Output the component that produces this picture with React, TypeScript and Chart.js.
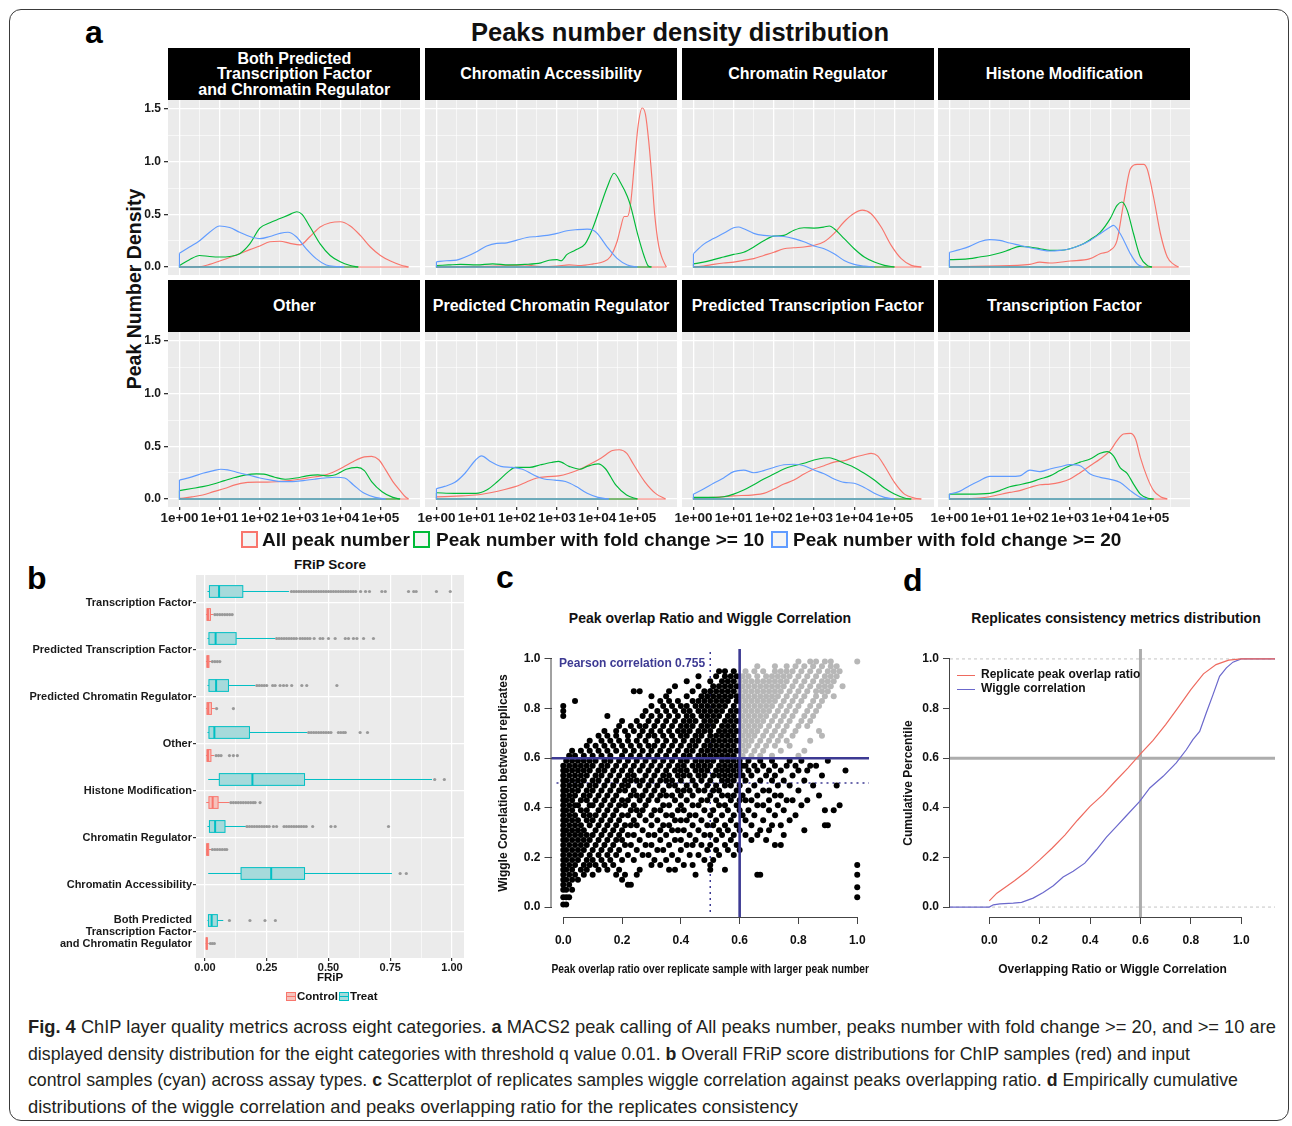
import React, { useEffect, useLayoutEffect, useRef } from 'react';
import { Chart, registerables } from 'chart.js';
Chart.register(...registerables);

const FONT = '"Liberation Sans", Arial, Helvetica, sans-serif';
Chart.defaults.font.family = FONT;
Chart.defaults.color = '#111';

// ================= Panel a : density distributions =================
const densityTitle = 'Peaks number density distribution';
const facetLabels = [
  'Both Predicted\nTranscription Factor\nand Chromatin Regulator',
  'Chromatin Accessibility',
  'Chromatin Regulator',
  'Histone Modification',
  'Other',
  'Predicted Chromatin Regulator',
  'Predicted Transcription Factor',
  'Transcription Factor',
];
const seriesLabels = ['All peak number', 'Peak number with fold change >= 10', 'Peak number with fold change >= 20'];
const seriesColors = ['#F8766D', '#00BA38', '#619CFF'];
const logTickLabels = ['1e+00', '1e+01', '1e+02', '1e+03', '1e+04', '1e+05'];
const densityYTickLabels = ['0.0', '0.5', '1.0', '1.5'];

type Curve = [number, number][];
// x = log10(peak number), y = density
const bothAll: Curve = [[0,0],[0.5,0.003],[0.75,0.025],[1,0.057],[1.25,0.09],[1.5,0.127],[1.75,0.165],[2,0.2],[2.25,0.24],[2.5,0.245],[2.75,0.225],[3,0.21],[3.25,0.29],[3.5,0.38],[3.75,0.42],[4,0.43],[4.25,0.39],[4.5,0.3],[4.75,0.19],[5,0.11],[5.25,0.057],[5.5,0.02],[5.7,0]];
const bothFc10: Curve = [[0,0.015],[0.25,0.07],[0.5,0.11],[0.75,0.1],[1,0.095],[1.25,0.1],[1.5,0.127],[1.75,0.22],[2,0.37],[2.25,0.42],[2.5,0.46],[2.75,0.5],[2.92,0.525],[3.05,0.5],[3.25,0.38],[3.5,0.22],[3.75,0.11],[4,0.05],[4.25,0.015],[4.45,0]];
const bothFc20: Curve = [[0,0.13],[0.25,0.19],[0.5,0.25],[0.75,0.33],[1,0.39],[1.25,0.375],[1.5,0.33],[1.75,0.29],[2,0.27],[2.25,0.29],[2.5,0.32],[2.7,0.33],[2.9,0.29],[3.15,0.175],[3.4,0.08],[3.65,0.02],[3.9,0.005],[4.1,0]];

const caAll: Curve = [[0,0],[1.5,0.01],[2.2,0.02],[2.6,0.005],[3,0.01],[3.3,0.02],[3.6,0.015],[3.9,0.03],[4.15,0.05],[4.33,0.1],[4.5,0.25],[4.58,0.37],[4.67,0.48],[4.75,0.48],[4.83,0.6],[4.93,1.0],[5.02,1.35],[5.12,1.51],[5.2,1.45],[5.28,1.2],[5.37,0.8],[5.43,0.5],[5.53,0.2],[5.62,0.08],[5.72,0]];
const caFc10: Curve = [[0,0.015],[0.3,0.02],[0.6,0.025],[1,0.02],[1.4,0.03],[1.8,0.02],[2.2,0.025],[2.6,0.04],[2.8,0.065],[3,0.07],[3.1,0.06],[3.25,0.12],[3.45,0.16],[3.7,0.22],[3.9,0.38],[4.1,0.6],[4.25,0.76],[4.42,0.89],[4.58,0.8],[4.75,0.67],[4.83,0.58],[5,0.32],[5.17,0.1],[5.27,0.01],[5.35,0]];
const caFc20: Curve = [[0,0.05],[0.25,0.06],[0.5,0.066],[0.75,0.1],[1,0.145],[1.25,0.2],[1.5,0.225],[1.75,0.23],[2,0.255],[2.25,0.28],[2.5,0.29],[2.75,0.3],[3,0.32],[3.25,0.345],[3.5,0.355],[3.75,0.36],[3.9,0.35],[4,0.32],[4.25,0.19],[4.5,0.08],[4.75,0.02],[5,0]];

const crAll: Curve = [[0,0],[0.25,0.01],[0.5,0.025],[0.75,0.038],[1,0.047],[1.25,0.063],[1.5,0.08],[1.75,0.11],[2,0.14],[2.25,0.174],[2.5,0.183],[2.75,0.19],[3,0.206],[3.25,0.24],[3.5,0.32],[3.75,0.43],[4,0.51],[4.2,0.54],[4.42,0.506],[4.67,0.38],[4.92,0.206],[5.17,0.08],[5.42,0.016],[5.67,0]];
const crFc10: Curve = [[0,0.03],[0.25,0.047],[0.5,0.07],[0.75,0.095],[1,0.12],[1.25,0.14],[1.5,0.19],[1.75,0.25],[2,0.294],[2.25,0.3],[2.5,0.35],[2.75,0.373],[3,0.37],[3.25,0.38],[3.38,0.39],[3.5,0.364],[3.75,0.27],[4,0.174],[4.25,0.095],[4.5,0.047],[4.75,0.016],[5,0]];
const crFc20: Curve = [[0,0.127],[0.25,0.215],[0.5,0.27],[0.75,0.32],[1,0.373],[1.12,0.38],[1.25,0.364],[1.5,0.32],[1.75,0.3],[2,0.294],[2.25,0.29],[2.5,0.27],[2.75,0.24],[3,0.2],[3.25,0.174],[3.5,0.127],[3.75,0.063],[4,0.025],[4.25,0.01],[4.5,0]];

const hmAll: Curve = [[0,0],[1,0.01],[2,0.025],[2.25,0.047],[2.5,0.038],[3,0.057],[3.5,0.08],[3.75,0.127],[4,0.158],[4.17,0.253],[4.33,0.6],[4.5,0.93],[4.67,0.975],[4.83,0.975],[4.92,0.93],[5.08,0.66],[5.25,0.316],[5.42,0.095],[5.58,0.025],[5.7,0]];
const hmFc10: Curve = [[0,0.07],[0.25,0.073],[0.5,0.08],[0.75,0.095],[1,0.11],[1.25,0.133],[1.5,0.165],[1.75,0.196],[2,0.19],[2.25,0.174],[2.5,0.158],[2.75,0.158],[3,0.174],[3.25,0.206],[3.5,0.26],[3.75,0.33],[4,0.46],[4.17,0.585],[4.29,0.617],[4.42,0.54],[4.58,0.316],[4.75,0.095],[4.92,0.016],[5.04,0]];
const hmFc20: Curve = [[0,0.14],[0.25,0.165],[0.5,0.196],[0.75,0.24],[1,0.26],[1.25,0.253],[1.5,0.228],[1.75,0.206],[2,0.183],[2.25,0.165],[2.5,0.152],[2.75,0.158],[3,0.174],[3.25,0.206],[3.5,0.253],[3.75,0.316],[4,0.38],[4.08,0.395],[4.25,0.316],[4.5,0.127],[4.67,0.03],[4.83,0]];

const otherAll: Curve = [[0,0.006],[0.31,0.02],[0.58,0.038],[0.85,0.07],[1.12,0.1],[1.38,0.134],[1.65,0.156],[1.92,0.16],[2.19,0.16],[2.46,0.166],[2.72,0.175],[2.99,0.188],[3.26,0.204],[3.53,0.22],[3.79,0.25],[4.06,0.3],[4.33,0.357],[4.6,0.4],[4.78,0.405],[4.96,0.373],[5.13,0.277],[5.31,0.166],[5.49,0.08],[5.62,0.022],[5.7,0]];
const otherFc10: Curve = [[0,0.08],[0.31,0.1],[0.58,0.118],[0.85,0.143],[1.12,0.175],[1.38,0.204],[1.65,0.23],[1.92,0.239],[2.1,0.236],[2.37,0.207],[2.63,0.188],[2.9,0.2],[3.17,0.22],[3.44,0.23],[3.71,0.22],[3.88,0.23],[4.15,0.283],[4.42,0.3],[4.6,0.27],[4.78,0.166],[5.04,0.07],[5.31,0.016],[5.49,0]];
const otherFc20: Curve = [[0,0.18],[0.31,0.21],[0.58,0.245],[0.85,0.27],[1.03,0.283],[1.2,0.277],[1.47,0.25],[1.74,0.226],[2,0.2],[2.28,0.18],[2.54,0.166],[2.81,0.166],[3.08,0.175],[3.35,0.188],[3.62,0.2],[3.88,0.207],[4.11,0.2],[4.33,0.134],[4.6,0.054],[4.87,0.016],[5.13,0]];

const pcrAll: Curve = [[0,0.02],[0.63,0.03],[0.98,0.038],[1.34,0.06],[1.7,0.09],[1.96,0.118],[2.23,0.16],[2.5,0.2],[2.77,0.213],[3.04,0.22],[3.3,0.245],[3.57,0.283],[3.84,0.334],[4.1,0.39],[4.38,0.46],[4.55,0.468],[4.73,0.436],[4.91,0.325],[5.18,0.166],[5.45,0.054],[5.7,0]];
const pcrFc10: Curve = [[0,0.06],[0.45,0.054],[0.98,0.054],[1.25,0.086],[1.52,0.166],[1.79,0.26],[1.96,0.3],[2.32,0.3],[2.59,0.325],[2.86,0.347],[3.04,0.357],[3.3,0.31],[3.57,0.283],[3.75,0.31],[4.02,0.334],[4.2,0.29],[4.46,0.134],[4.73,0.038],[5,0]];
const pcrFc20: Curve = [[0,0.1],[0.2,0.12],[0.45,0.156],[0.71,0.245],[0.98,0.373],[1.12,0.41],[1.34,0.357],[1.6,0.31],[1.88,0.3],[2.14,0.283],[2.41,0.23],[2.68,0.19],[2.95,0.18],[3.21,0.166],[3.48,0.118],[3.75,0.054],[4.02,0.016],[4.29,0]];

const ptfAll: Curve = [[0,0.01],[0.5,0.016],[1,0.03],[1.5,0.04],[1.75,0.054],[2,0.095],[2.25,0.142],[2.5,0.18],[2.75,0.237],[3,0.285],[3.25,0.316],[3.5,0.35],[3.75,0.364],[4,0.396],[4.25,0.42],[4.42,0.434],[4.58,0.41],[4.75,0.316],[5,0.158],[5.25,0.047],[5.5,0.01],[5.67,0]];
const ptfFc10: Curve = [[0,0.016],[0.5,0.016],[0.75,0.022],[1,0.047],[1.25,0.085],[1.5,0.136],[1.75,0.19],[2,0.237],[2.25,0.285],[2.5,0.316],[2.75,0.34],[3,0.37],[3.25,0.39],[3.38,0.392],[3.5,0.38],[3.75,0.34],[4,0.3],[4.25,0.244],[4.5,0.18],[4.75,0.104],[5,0.047],[5.25,0.01],[5.42,0]];
const ptfFc20: Curve = [[0,0.047],[0.25,0.095],[0.5,0.15],[0.75,0.2],[1,0.26],[1.25,0.275],[1.5,0.25],[1.75,0.27],[2,0.3],[2.25,0.326],[2.5,0.33],[2.75,0.316],[3,0.275],[3.25,0.24],[3.5,0.19],[3.75,0.158],[4,0.15],[4.25,0.11],[4.5,0.054],[4.75,0.016],[5,0]];

const tfAll: Curve = [[0,0],[0.75,0.01],[1,0.022],[1.5,0.063],[1.75,0.08],[2,0.11],[2.25,0.136],[2.5,0.142],[2.75,0.158],[3,0.19],[3.25,0.25],[3.5,0.316],[3.75,0.38],[4,0.46],[4.17,0.554],[4.33,0.617],[4.5,0.623],[4.63,0.57],[4.75,0.396],[4.92,0.206],[5.08,0.08],[5.25,0.022],[5.42,0]];
const tfFc10: Curve = [[0,0.047],[0.5,0.047],[1,0.054],[1.25,0.08],[1.5,0.117],[1.75,0.136],[2,0.158],[2.25,0.19],[2.5,0.22],[2.75,0.27],[3,0.316],[3.25,0.35],[3.5,0.38],[3.75,0.434],[3.92,0.45],[4.08,0.41],[4.25,0.295],[4.42,0.244],[4.58,0.142],[4.75,0.047],[4.92,0.01],[5.08,0]];
const tfFc20: Curve = [[0,0.047],[0.25,0.073],[0.5,0.127],[0.75,0.174],[1,0.215],[1.25,0.215],[1.5,0.215],[1.75,0.22],[2,0.275],[2.25,0.26],[2.5,0.285],[2.75,0.307],[3,0.326],[3.25,0.316],[3.5,0.237],[3.75,0.206],[4,0.187],[4.25,0.158],[4.5,0.08],[4.75,0.016],[4.92,0]];

const densityPanels: Curve[][] = [
  [bothAll, bothFc10, bothFc20],
  [caAll, caFc10, caFc20],
  [crAll, crFc10, crFc20],
  [hmAll, hmFc10, hmFc20],
  [otherAll, otherFc10, otherFc20],
  [pcrAll, pcrFc10, pcrFc20],
  [ptfAll, ptfFc10, ptfFc20],
  [tfAll, tfFc10, tfFc20],
];

// ================= Panel b : FRiP boxplots =================
const fripCategories: (string | string[])[] = [
  'Transcription Factor',
  'Predicted Transcription Factor',
  'Predicted Chromatin Regulator',
  'Other',
  'Histone Modification',
  'Chromatin Regulator',
  'Chromatin Accessibility',
  ['Both Predicted', 'Transcription Factor', 'and Chromatin Regulator'],
];
const fripTickLabels = ['0.00', '0.25', '0.50', '0.75', '1.00'];
// [lower whisker, q1, median, q3, upper whisker]
const fripTreatStats: (number[] | null)[] = [
  [0.01, 0.018, 0.057, 0.153, 0.34],
  [0.01, 0.016, 0.043, 0.126, 0.284],
  [0.01, 0.016, 0.045, 0.095, 0.203],
  [0.01, 0.016, 0.038, 0.18, 0.415],
  [0.013, 0.058, 0.192, 0.403, 0.919],
  [0.01, 0.018, 0.041, 0.081, 0.166],
  [0.013, 0.146, 0.268, 0.403, 0.757],
  [0.01, 0.014, 0.027, 0.05, 0.074],
];
const fripControlStats: (number[] | null)[] = [
  [0.004, 0.008, 0.012, 0.022, 0.034],
  [0.004, 0.008, 0.011, 0.016, 0.025],
  [0.004, 0.008, 0.013, 0.026, 0.04],
  [0.004, 0.008, 0.012, 0.024, 0.037],
  [0.005, 0.016, 0.031, 0.053, 0.099],
  [0.004, 0.007, 0.01, 0.015, 0.025],
  null,
  [0.003, 0.005, 0.007, 0.009, 0.015],
];
const fripTreatOutliers: number[][] = [
  [0.35,0.36,0.37,0.38,0.39,0.4,0.41,0.42,0.43,0.44,0.45,0.46,0.47,0.48,0.49,0.5,0.51,0.52,0.53,0.54,0.55,0.56,0.57,0.58,0.59,0.6,0.61,0.63,0.65,0.666,0.716,0.73,0.824,0.845,0.855,0.937,0.993],
  [0.29,0.3,0.31,0.32,0.33,0.34,0.35,0.36,0.37,0.385,0.395,0.405,0.415,0.425,0.442,0.466,0.477,0.5,0.527,0.568,0.581,0.601,0.615,0.642,0.682],
  [0.21,0.22,0.23,0.24,0.25,0.274,0.284,0.304,0.318,0.331,0.351,0.392,0.412,0.534],
  [0.42,0.43,0.44,0.45,0.46,0.47,0.48,0.49,0.5,0.51,0.54,0.55,0.56,0.568,0.628,0.658],
  [0.93,0.969],
  [0.17,0.18,0.19,0.2,0.21,0.22,0.23,0.24,0.25,0.26,0.277,0.29,0.32,0.33,0.34,0.35,0.36,0.37,0.38,0.39,0.4,0.41,0.436,0.51,0.527,0.743],
  [0.79,0.815],
  [0.099,0.182,0.243,0.285],
];
const fripControlOutliers: number[][] = [
  [0.04,0.05,0.06,0.07,0.08,0.09,0.1,0.11],
  [0.03,0.04,0.05,0.06],
  [0.047,0.115],
  [0.045,0.055,0.065,0.099,0.115,0.131],
  [0.105,0.115,0.125,0.135,0.145,0.155,0.165,0.175,0.185,0.195,0.203,0.223],
  [0.03,0.04,0.05,0.06,0.07,0.08,0.088],
  [],
  [0.022,0.03,0.038],
];

// ================= Panel c : scatter =================
const unitTickLabels = ['0.0', '0.2', '0.4', '0.6', '0.8', '1.0'];
const overlapCut = 0.6;
const wiggleCut = 0.6;
const overlapDotted = 0.5;
const wiggleDotted = 0.5;
const pearsonText = 'Pearson correlation 0.755';
// rows of [wiggle correlation, overlap ratios...]
const scatterBlackRows: [number, number[]][] = [
  [0.01, [0.0, 0.01]],
  [0.04, [0.0, 0.01, 0.02, 1.0]],
  [0.07, [0.0, 0.01, 0.03]],
  [0.08, [1.0]],
  [0.09, [0.0, 0.02, 0.22, 0.23]],
  [0.11, [0.0, 0.01, 0.03, 0.05, 0.2]],
  [0.13, [0.0, 0.02, 0.04, 0.07, 0.1, 0.18, 0.21, 0.25, 0.45, 0.66, 0.67, 1.0]],
  [0.15, [0.0, 0.01, 0.03, 0.06, 0.08, 0.12, 0.15, 0.19, 0.26, 0.36, 0.38, 0.5, 0.55]],
  [0.17, [0.0, 0.02, 0.04, 0.07, 0.09, 0.11, 0.14, 0.17, 0.3, 0.33, 0.41, 0.44, 0.5, 1.0]],
  [0.19, [0.0, 0.01, 0.03, 0.05, 0.08, 0.1, 0.13, 0.16, 0.2, 0.24, 0.31, 0.35, 0.39, 0.48, 0.51]],
  [0.21, [0.0, 0.02, 0.04, 0.06, 0.09, 0.12, 0.15, 0.18, 0.22, 0.27, 0.29, 0.37, 0.43, 0.46, 0.53, 0.58]],
  [0.23, [0.0, 0.01, 0.03, 0.05, 0.07, 0.1, 0.13, 0.16, 0.19, 0.25, 0.32, 0.34, 0.4, 0.49, 0.52, 0.56, 0.6]],
  [0.25, [0.0, 0.02, 0.04, 0.06, 0.08, 0.11, 0.14, 0.17, 0.21, 0.23, 0.28, 0.3, 0.36, 0.42, 0.44, 0.47, 0.5, 0.55, 0.59, 0.72, 0.74]],
  [0.27, [0.0, 0.01, 0.03, 0.05, 0.07, 0.09, 0.12, 0.15, 0.18, 0.2, 0.26, 0.33, 0.38, 0.4, 0.45, 0.52, 0.57, 0.64, 0.69]],
  [0.29, [0.0, 0.02, 0.04, 0.06, 0.08, 0.1, 0.13, 0.16, 0.19, 0.22, 0.24, 0.29, 0.31, 0.35, 0.43, 0.48, 0.5, 0.54, 0.58, 0.62, 0.66, 0.75]],
  [0.31, [0.0, 0.01, 0.03, 0.05, 0.07, 0.11, 0.14, 0.17, 0.2, 0.27, 0.33, 0.37, 0.39, 0.41, 0.46, 0.53, 0.56, 0.6, 0.67, 0.7, 0.82]],
  [0.33, [0.0, 0.02, 0.04, 0.06, 0.09, 0.12, 0.15, 0.18, 0.21, 0.23, 0.25, 0.3, 0.34, 0.36, 0.44, 0.49, 0.51, 0.55, 0.59, 0.64, 0.71, 0.74, 0.89, 0.9]],
  [0.35, [0.0, 0.01, 0.03, 0.05, 0.08, 0.1, 0.13, 0.16, 0.19, 0.24, 0.28, 0.32, 0.38, 0.4, 0.42, 0.47, 0.52, 0.57, 0.62, 0.68, 0.77]],
  [0.37, [0.0, 0.02, 0.04, 0.07, 0.09, 0.11, 0.14, 0.17, 0.2, 0.22, 0.26, 0.3, 0.35, 0.37, 0.43, 0.45, 0.5, 0.54, 0.58, 0.61, 0.65, 0.72, 0.79]],
  [0.39, [0.0, 0.01, 0.03, 0.06, 0.08, 0.12, 0.15, 0.18, 0.23, 0.25, 0.27, 0.31, 0.33, 0.39, 0.41, 0.48, 0.51, 0.56, 0.6, 0.63, 0.7, 0.75, 0.89, 0.92]],
  [0.41, [0.0, 0.02, 0.04, 0.05, 0.09, 0.1, 0.13, 0.16, 0.19, 0.21, 0.24, 0.28, 0.34, 0.36, 0.4, 0.44, 0.46, 0.53, 0.55, 0.59, 0.66, 0.68, 0.73, 0.81, 0.94]],
  [0.43, [0.0, 0.01, 0.03, 0.06, 0.08, 0.11, 0.14, 0.17, 0.2, 0.22, 0.26, 0.29, 0.32, 0.38, 0.42, 0.47, 0.49, 0.52, 0.57, 0.6, 0.62, 0.64, 0.7, 0.76, 0.78, 0.83]],
  [0.45, [0.0, 0.02, 0.04, 0.07, 0.09, 0.12, 0.15, 0.18, 0.23, 0.25, 0.27, 0.3, 0.33, 0.35, 0.37, 0.4, 0.44, 0.5, 0.54, 0.56, 0.58, 0.61, 0.66, 0.72, 0.74, 0.87]],
  [0.47, [0.0, 0.01, 0.03, 0.05, 0.08, 0.1, 0.13, 0.16, 0.19, 0.21, 0.24, 0.28, 0.31, 0.34, 0.39, 0.41, 0.43, 0.46, 0.48, 0.51, 0.53, 0.59, 0.63, 0.68, 0.7, 0.8]],
  [0.49, [0.0, 0.02, 0.04, 0.06, 0.09, 0.11, 0.14, 0.17, 0.2, 0.22, 0.26, 0.29, 0.32, 0.36, 0.38, 0.42, 0.45, 0.49, 0.52, 0.55, 0.57, 0.6, 0.65, 0.73, 0.77, 0.85, 0.93]],
  [0.51, [0.0, 0.01, 0.03, 0.05, 0.07, 0.1, 0.12, 0.15, 0.18, 0.21, 0.23, 0.25, 0.27, 0.3, 0.33, 0.35, 0.37, 0.4, 0.44, 0.47, 0.5, 0.54, 0.56, 0.58, 0.62, 0.67, 0.71, 0.75, 0.82]],
  [0.53, [0.0, 0.02, 0.04, 0.06, 0.08, 0.11, 0.13, 0.16, 0.19, 0.22, 0.24, 0.28, 0.31, 0.34, 0.36, 0.39, 0.41, 0.43, 0.46, 0.48, 0.51, 0.53, 0.55, 0.57, 0.59, 0.61, 0.64, 0.69, 0.72, 0.78, 0.88]],
  [0.55, [0.0, 0.01, 0.03, 0.05, 0.07, 0.09, 0.12, 0.14, 0.17, 0.2, 0.23, 0.26, 0.29, 0.32, 0.35, 0.38, 0.4, 0.42, 0.45, 0.47, 0.49, 0.52, 0.54, 0.56, 0.58, 0.6, 0.63, 0.66, 0.7, 0.74, 0.8, 0.83, 0.96]],
  [0.57, [0.0, 0.02, 0.04, 0.06, 0.08, 0.1, 0.13, 0.15, 0.18, 0.21, 0.24, 0.27, 0.3, 0.33, 0.36, 0.39, 0.41, 0.44, 0.46, 0.48, 0.5, 0.53, 0.55, 0.57, 0.59, 0.61, 0.62, 0.65, 0.68, 0.72, 0.76, 0.79, 0.84, 0.86]],
  [0.59, [0.01, 0.03, 0.05, 0.07, 0.09, 0.11, 0.14, 0.16, 0.19, 0.22, 0.25, 0.28, 0.31, 0.34, 0.37, 0.4, 0.42, 0.45, 0.47, 0.49, 0.51, 0.54, 0.56, 0.58, 0.6, 0.63, 0.67, 0.71, 0.77, 0.81, 0.9]],
  [0.61, [0.02, 0.04, 0.07, 0.1, 0.13, 0.16, 0.2, 0.23, 0.26, 0.29, 0.32, 0.35, 0.38, 0.41, 0.43, 0.46, 0.48, 0.5, 0.52, 0.54, 0.56, 0.58]],
  [0.63, [0.03, 0.06, 0.09, 0.12, 0.15, 0.18, 0.21, 0.24, 0.27, 0.3, 0.33, 0.36, 0.39, 0.42, 0.44, 0.47, 0.49, 0.51, 0.53, 0.55, 0.57, 0.59]],
  [0.65, [0.08, 0.11, 0.14, 0.17, 0.2, 0.23, 0.26, 0.29, 0.31, 0.34, 0.37, 0.4, 0.43, 0.45, 0.48, 0.5, 0.52, 0.54, 0.56, 0.58]],
  [0.67, [0.09, 0.13, 0.16, 0.19, 0.22, 0.25, 0.28, 0.32, 0.35, 0.38, 0.41, 0.44, 0.46, 0.49, 0.51, 0.53, 0.55, 0.57, 0.59]],
  [0.69, [0.12, 0.15, 0.18, 0.22, 0.26, 0.29, 0.31, 0.34, 0.37, 0.4, 0.42, 0.45, 0.47, 0.5, 0.52, 0.54, 0.56, 0.58]],
  [0.71, [0.14, 0.18, 0.21, 0.24, 0.27, 0.3, 0.33, 0.36, 0.39, 0.41, 0.43, 0.46, 0.48, 0.5, 0.53, 0.55, 0.57, 0.59]],
  [0.73, [0.19, 0.23, 0.26, 0.28, 0.31, 0.34, 0.37, 0.4, 0.42, 0.44, 0.47, 0.49, 0.51, 0.54, 0.56, 0.58]],
  [0.75, [0.2, 0.25, 0.29, 0.32, 0.35, 0.38, 0.41, 0.43, 0.45, 0.48, 0.5, 0.52, 0.55, 0.57, 0.59]],
  [0.77, [0.0, 0.15, 0.27, 0.3, 0.33, 0.36, 0.39, 0.42, 0.44, 0.47, 0.49, 0.51, 0.53, 0.56, 0.58]],
  [0.79, [0.0, 0.28, 0.32, 0.35, 0.38, 0.41, 0.43, 0.46, 0.48, 0.5, 0.52, 0.54, 0.57, 0.59]],
  [0.81, [0.0, 0.3, 0.34, 0.37, 0.4, 0.42, 0.45, 0.47, 0.49, 0.51, 0.53, 0.55, 0.58]],
  [0.83, [0.04, 0.33, 0.36, 0.39, 0.44, 0.46, 0.48, 0.5, 0.52, 0.54, 0.56, 0.59]],
  [0.85, [0.3, 0.35, 0.42, 0.47, 0.49, 0.51, 0.53, 0.55, 0.57, 0.59]],
  [0.87, [0.24, 0.26, 0.36, 0.44, 0.48, 0.5, 0.52, 0.54, 0.56, 0.58]],
  [0.89, [0.38, 0.46, 0.51, 0.53, 0.55, 0.57, 0.59]],
  [0.91, [0.42, 0.5, 0.54, 0.56, 0.58]],
  [0.93, [0.46, 0.52, 0.55, 0.57, 0.59]],
  [0.95, [0.53, 0.55, 0.58]],
];
const scatterGrayRows: [number, number[]][] = [
  [0.61, [0.61, 0.64, 0.67, 0.71, 0.8]],
  [0.63, [0.6, 0.62, 0.65, 0.68, 0.74, 0.82]],
  [0.65, [0.61, 0.63, 0.66, 0.69, 0.72, 0.77]],
  [0.67, [0.6, 0.62, 0.64, 0.67, 0.7, 0.73, 0.76, 0.84]],
  [0.69, [0.61, 0.63, 0.65, 0.68, 0.71, 0.74, 0.78, 0.88]],
  [0.71, [0.6, 0.62, 0.64, 0.66, 0.69, 0.72, 0.75, 0.79, 0.87]],
  [0.73, [0.61, 0.63, 0.65, 0.67, 0.7, 0.73, 0.76, 0.8, 0.83]],
  [0.75, [0.6, 0.62, 0.64, 0.66, 0.68, 0.71, 0.74, 0.77, 0.81, 0.84]],
  [0.77, [0.61, 0.63, 0.65, 0.67, 0.69, 0.72, 0.75, 0.78, 0.82, 0.85]],
  [0.79, [0.6, 0.62, 0.64, 0.66, 0.68, 0.7, 0.73, 0.76, 0.79, 0.83, 0.86]],
  [0.81, [0.61, 0.63, 0.65, 0.67, 0.69, 0.71, 0.74, 0.77, 0.8, 0.84, 0.87]],
  [0.83, [0.6, 0.62, 0.64, 0.66, 0.68, 0.7, 0.72, 0.75, 0.78, 0.81, 0.85, 0.88]],
  [0.85, [0.61, 0.63, 0.65, 0.67, 0.69, 0.71, 0.73, 0.76, 0.79, 0.82, 0.86, 0.89, 0.92]],
  [0.87, [0.6, 0.62, 0.64, 0.66, 0.68, 0.7, 0.72, 0.74, 0.77, 0.8, 0.83, 0.86, 0.88, 0.9]],
  [0.89, [0.61, 0.63, 0.65, 0.67, 0.69, 0.71, 0.73, 0.75, 0.78, 0.81, 0.84, 0.87, 0.89, 0.91, 0.95]],
  [0.91, [0.6, 0.62, 0.64, 0.66, 0.68, 0.7, 0.72, 0.74, 0.76, 0.79, 0.82, 0.85, 0.88, 0.9, 0.92]],
  [0.93, [0.61, 0.63, 0.66, 0.69, 0.71, 0.73, 0.75, 0.77, 0.8, 0.83, 0.86, 0.89, 0.91, 0.93]],
  [0.95, [0.62, 0.65, 0.68, 0.72, 0.74, 0.76, 0.78, 0.81, 0.84, 0.87, 0.9, 0.92, 0.94]],
  [0.97, [0.66, 0.72, 0.76, 0.79, 0.82, 0.85, 0.88, 0.91, 0.93]],
  [0.99, [0.8, 0.84, 0.86, 0.89, 0.91, 1.0]],
];

// ================= Panel d : ECDF =================
const ecdfLegend = ['Replicate peak overlap ratio', 'Wiggle correlation'];
const overlapEcdf: Curve = [[0,0.025],[0.03,0.056],[0.1,0.106],[0.15,0.145],[0.2,0.19],[0.25,0.238],[0.3,0.29],[0.35,0.35],[0.4,0.406],[0.45,0.452],[0.5,0.507],[0.55,0.56],[0.6,0.617],[0.65,0.672],[0.7,0.735],[0.75,0.805],[0.8,0.876],[0.85,0.94],[0.9,0.977],[0.95,0.995],[1.0,1.0],[1.134,1.0]];
const wiggleEcdf: Curve = [[-0.156,0],[0,0],[0.016,0.009],[0.042,0.013],[0.095,0.016],[0.128,0.019],[0.174,0.036],[0.214,0.059],[0.254,0.086],[0.293,0.121],[0.333,0.144],[0.379,0.177],[0.425,0.231],[0.465,0.282],[0.505,0.325],[0.544,0.368],[0.597,0.426],[0.637,0.48],[0.69,0.527],[0.742,0.581],[0.782,0.634],[0.808,0.675],[0.835,0.708],[0.861,0.782],[0.888,0.856],[0.914,0.93],[0.941,0.964],[0.967,0.987],[1.0,1.0],[1.134,1.0]];
const ecdfCut = 0.6;

// ================= Caption =================
const captionLines: [string, boolean][][] = [
  [['Fig. 4', true], [' ChIP layer quality metrics across eight categories. ', false], ['a', true], [' MACS2 peak calling of All peaks number, peaks number with fold change >= 20, and >= 10 are', false]],
  [['displayed density distribution for the eight categories with threshold q value 0.01. ', false], ['b', true], [' Overall FRiP score distributions for ChIP samples (red) and input', false]],
  [['control samples (cyan) across assay types. ', false], ['c', true], [' Scatterplot of replicates samples wiggle correlation against peaks overlapping ratio. ', false], ['d', true], [' Empirically cumulative', false]],
  [['distributions of the wiggle correlation and peaks overlapping ratio for the replicates consistency', false]],
];

// ---------------- helpers ----------------
const near = (v: number, step: number) => Math.abs(v / step - Math.round(v / step)) < 1e-6;

const bgPlugin = {
  id: 'panelBg',
  beforeDraw(chart: any, _a: any, opts: any) {
    if (!opts || !opts.color) return;
    const { ctx, chartArea: a } = chart;
    ctx.save();
    ctx.fillStyle = opts.color;
    ctx.fillRect(a.left, a.top, a.right - a.left, a.bottom - a.top);
    ctx.restore();
  },
};

function ChartCanvas({ left, top, width, height, make }: any) {
  const ref = useRef<HTMLCanvasElement>(null);
  useEffect(() => {
    const ch = new Chart(ref.current as HTMLCanvasElement, make());
    return () => ch.destroy();
  }, []);
  return <canvas ref={ref} width={width} height={height} style={{ position: 'absolute', left, top, width, height }} />;
}

// ----- panel a config -----
const A_COL_LEFT = 168.3, A_COL_PITCH = 256.7, A_ROW_TOP = 100, A_ROW_PITCH = 232, A_W = 252, A_H = 175;
function densityConfig(curves: Curve[], showY: boolean, showX: boolean, pad: any) {
  const datasets: any[] = [];
  curves.forEach((curve, si) => {
    const ord = (2 - si) * 2;
    const f = curve[0];
    const l = curve[curve.length - 1];
    datasets.push({ data: curve.map(([x, y]) => ({ x, y })), borderColor: seriesColors[si], borderWidth: 1.15, pointRadius: 0, fill: false, cubicInterpolationMode: 'monotone', order: ord });
    datasets.push({ data: [{ x: f[0], y: f[1] }, { x: f[0], y: 0 }, { x: l[0], y: 0 }, { x: l[0], y: l[1] }], borderColor: seriesColors[si], borderWidth: 1.15, pointRadius: 0, fill: false, tension: 0, order: ord + 1 });
  });
  const tickFont = { family: FONT, weight: 'bold' as const };
  return {
    type: 'line',
    data: { datasets },
    options: {
      animation: false, responsive: false, events: [],
      layout: { padding: pad },
      plugins: { legend: { display: false }, tooltip: { enabled: false }, panelBg: { color: '#EBEBEB' } },
      scales: {
        x: {
          type: 'linear', min: -0.285, max: 5.985,
          afterBuildTicks: (s: any) => {
            const t: any[] = [];
            logTickLabels.forEach((_, i) => { t.push({ value: i }); t.push({ value: i + 0.5 }); });
            s.ticks = t;
          },
          afterFit: (s: any) => { s.height = showX ? 20 : 0; },
          border: { display: false },
          grid: {
            color: '#FFFFFF',
            lineWidth: (c: any) => (c.tick && near(c.tick.value, 1) ? 1.3 : 0.6),
            drawTicks: showX, tickLength: 3,
            tickColor: (c: any) => (c.tick && near(c.tick.value, 1) ? '#333' : 'rgba(0,0,0,0)'),
          },
          ticks: {
            display: showX, autoSkip: false, maxRotation: 0, padding: 0, color: '#1a1a1a',
            font: { ...tickFont, size: 13.5 },
            callback: (v: number) => (near(v, 1) ? logTickLabels[Math.round(v)] : ''),
          },
        },
        y: {
          type: 'linear', min: -0.0755, max: 1.5855,
          afterBuildTicks: (s: any) => {
            const t: any[] = [];
            densityYTickLabels.forEach((_, i) => { t.push({ value: i * 0.5 }); if (i < densityYTickLabels.length - 1) t.push({ value: i * 0.5 + 0.25 }); });
            s.ticks = t;
          },
          afterFit: (s: any) => { s.width = showY ? 36 : 0; },
          border: { display: false },
          grid: {
            color: '#FFFFFF',
            lineWidth: (c: any) => (c.tick && near(c.tick.value, 0.5) ? 1.3 : 0.6),
            drawTicks: showY, tickLength: 4,
            tickColor: (c: any) => (c.tick && near(c.tick.value, 0.5) ? '#333' : 'rgba(0,0,0,0)'),
          },
          ticks: {
            display: showY, autoSkip: false, padding: 3, color: '#1a1a1a',
            font: { ...tickFont, size: 12 },
            callback: (v: number) => (near(v, 0.5) ? densityYTickLabels[Math.round(v / 0.5)] : ''),
          },
        },
      },
    },
    plugins: [bgPlugin],
  };
}

// ----- panel b config -----
const B_OFF = 0.245, B_HALF = 0.125;
const boxPlugin = {
  id: 'fripBoxes',
  beforeDatasetsDraw(chart: any) {
    const { ctx, scales: { x, y } } = chart;
    const groups = [
      { stats: fripTreatStats, off: -B_OFF, line: '#00BFC4', fill: '#A6DADB' },
      { stats: fripControlStats, off: B_OFF, line: '#F8766D', fill: '#F6C2BC' },
    ];
    groups.forEach((g) => g.stats.forEach((s, i) => {
      if (!s) return;
      const [lo, q1, med, q3, hi] = s;
      const cy = y.getPixelForValue(i + g.off);
      const h = Math.abs(y.getPixelForValue(i + g.off + B_HALF) - cy);
      const x1 = x.getPixelForValue(q1), x3 = x.getPixelForValue(q3);
      ctx.save();
      ctx.strokeStyle = g.line;
      ctx.lineWidth = 1;
      ctx.beginPath();
      ctx.moveTo(x.getPixelForValue(lo), cy); ctx.lineTo(x1, cy);
      ctx.moveTo(x3, cy); ctx.lineTo(x.getPixelForValue(hi), cy);
      ctx.stroke();
      ctx.fillStyle = g.fill;
      ctx.fillRect(x1, cy - h, x3 - x1, 2 * h);
      ctx.strokeRect(x1, cy - h, x3 - x1, 2 * h);
      ctx.lineWidth = 2;
      const xm = x.getPixelForValue(med);
      ctx.beginPath(); ctx.moveTo(xm, cy - h); ctx.lineTo(xm, cy + h); ctx.stroke();
      ctx.restore();
    }));
  },
};
function fripConfig(pad: any) {
  const pts = (lists: number[][], off: number) => {
    const out: any[] = [];
    lists.forEach((vals, i) => vals.forEach((v) => out.push({ x: v, y: i + off })));
    return out;
  };
  const bold = { family: FONT, weight: 'bold' as const };
  return {
    type: 'scatter',
    data: {
      datasets: [
        { data: pts(fripTreatOutliers, -B_OFF), pointRadius: 1.6, backgroundColor: '#999999', borderWidth: 0 },
        { data: pts(fripControlOutliers, B_OFF), pointRadius: 1.6, backgroundColor: '#999999', borderWidth: 0 },
      ],
    },
    options: {
      animation: false, responsive: false, events: [],
      layout: { padding: pad },
      plugins: { legend: { display: false }, tooltip: { enabled: false }, panelBg: { color: '#EBEBEB' } },
      scales: {
        x: {
          type: 'linear', min: -0.0364, max: 1.0486,
          afterBuildTicks: (s: any) => {
            const t: any[] = [];
            fripTickLabels.forEach((_, i) => { t.push({ value: i * 0.25 }); if (i < fripTickLabels.length - 1) t.push({ value: i * 0.25 + 0.125 }); });
            s.ticks = t;
          },
          afterFit: (s: any) => { s.height = 32; },
          border: { display: false },
          grid: {
            color: '#FFFFFF',
            lineWidth: (c: any) => (c.tick && near(c.tick.value, 0.25) ? 1.2 : 0.6),
            tickLength: 3,
            tickColor: (c: any) => (c.tick && near(c.tick.value, 0.25) ? '#333' : 'rgba(0,0,0,0)'),
          },
          ticks: {
            autoSkip: false, maxRotation: 0, padding: 0, color: '#1a1a1a', font: { ...bold, size: 11 },
            callback: (v: number) => (near(v, 0.25) ? fripTickLabels[Math.round(v / 0.25)] : ''),
          },
          title: { display: true, text: 'FRiP', color: '#111', font: { ...bold, size: 11.5 }, padding: { top: 0, bottom: 5 } },
        },
        y: {
          type: 'linear', reverse: true, min: -0.596, max: 7.553,
          afterBuildTicks: (s: any) => { s.ticks = fripCategories.map((_, i) => ({ value: i })); },
          afterFit: (s: any) => { s.width = 184; },
          border: { display: false },
          grid: { color: '#FFFFFF', lineWidth: 1.2, tickLength: 3, tickColor: '#333' },
          ticks: {
            autoSkip: false, padding: 1, color: '#1a1a1a', font: { ...bold, size: 11, lineHeight: 1.12 },
            callback: (v: number) => fripCategories[Math.round(v)],
          },
        },
      },
    },
    plugins: [bgPlugin, boxPlugin],
  };
}

// ----- panel c / d (R base style) -----
const rAxesPlugin = {
  id: 'rAxes',
  afterDraw(chart: any) {
    const { ctx, chartArea: a, scales: { x, y } } = chart;
    ctx.save();
    ctx.strokeStyle = '#444';
    ctx.lineWidth = 1;
    ctx.beginPath();
    ctx.moveTo(x.getPixelForValue(0), a.bottom + 0.5); ctx.lineTo(x.getPixelForValue(1), a.bottom + 0.5);
    ctx.moveTo(a.left - 0.5, y.getPixelForValue(0)); ctx.lineTo(a.left - 0.5, y.getPixelForValue(1));
    ctx.stroke();
    ctx.restore();
  },
};
const scatterRefPlugin = {
  id: 'scatterRefs',
  beforeDatasetsDraw(chart: any) {
    const { ctx, chartArea: a, scales: { x, y } } = chart;
    ctx.save();
    ctx.strokeStyle = '#3D3A93';
    ctx.lineWidth = 1.5;
    ctx.setLineDash([2, 4]);
    const xd = x.getPixelForValue(overlapDotted), yd = y.getPixelForValue(wiggleDotted);
    ctx.beginPath();
    ctx.moveTo(xd, a.top + 3); ctx.lineTo(xd, a.bottom - 3);
    ctx.moveTo(a.left + 5, yd); ctx.lineTo(a.right, yd);
    ctx.stroke();
    ctx.restore();
  },
  afterDatasetsDraw(chart: any) {
    const { ctx, chartArea: a, scales: { x, y } } = chart;
    ctx.save();
    ctx.strokeStyle = '#3D3A93';
    ctx.lineWidth = 2.6;
    const xs = x.getPixelForValue(overlapCut), ys = y.getPixelForValue(wiggleCut);
    ctx.beginPath();
    ctx.moveTo(xs, a.top); ctx.lineTo(xs, a.bottom);
    ctx.moveTo(a.left, ys); ctx.lineTo(a.right, ys);
    ctx.stroke();
    ctx.restore();
  },
};
const ecdfRefPlugin = {
  id: 'ecdfRefs',
  beforeDatasetsDraw(chart: any) {
    const { ctx, chartArea: a, scales: { x, y } } = chart;
    ctx.save();
    ctx.strokeStyle = '#C4C4C4';
    ctx.lineWidth = 1;
    ctx.setLineDash([3, 3]);
    ctx.beginPath();
    [0, 1].forEach((v) => { const p = y.getPixelForValue(v); ctx.moveTo(a.left, p); ctx.lineTo(a.right, p); });
    ctx.stroke();
    ctx.setLineDash([]);
    ctx.strokeStyle = '#ADADAD';
    ctx.lineWidth = 3;
    const xs = x.getPixelForValue(ecdfCut), ys = y.getPixelForValue(ecdfCut);
    ctx.beginPath();
    ctx.moveTo(xs, a.top); ctx.lineTo(xs, a.bottom);
    ctx.moveTo(a.left, ys); ctx.lineTo(a.right, ys);
    ctx.stroke();
    ctx.restore();
  },
};
function rScales(xmin: number, xmax: number, xTitle: string, yTitle: string, yW: number, yTitlePad: number) {
  const bold = { family: FONT, weight: 'bold' as const };
  const common = {
    type: 'linear',
    afterBuildTicks: (s: any) => { s.ticks = unitTickLabels.map((_, i) => ({ value: i * 0.2 })); },
    border: { display: false },
    grid: { drawOnChartArea: false, drawTicks: true, tickLength: 7, tickColor: '#444', lineWidth: 1 },
  };
  return {
    x: {
      ...common, min: xmin, max: xmax,
      afterFit: (s: any) => { s.height = 68; },
      ticks: { autoSkip: false, maxRotation: 0, padding: 9, color: '#111', font: { ...bold, size: 12 }, callback: (v: number) => unitTickLabels[Math.round(v / 0.2)] },
      title: { display: true, text: xTitle, color: '#111', font: { ...bold, size: 12 }, padding: { top: 0, bottom: 8 } },
    },
    y: {
      ...common, min: -0.04, max: 1.04,
      afterFit: (s: any) => { s.width = yW; },
      ticks: { autoSkip: false, padding: 4, color: '#111', font: { ...bold, size: 12 }, callback: (v: number) => unitTickLabels[Math.round(v / 0.2)] },
      title: { display: true, text: yTitle, color: '#111', font: { ...bold, size: 12 }, padding: { top: yTitlePad, bottom: 0 } },
    },
  };
}
function scatterConfig(pad: any) {
  const flat = (rows: [number, number[]][]) => {
    const out: any[] = [];
    rows.forEach(([y, xs]) => xs.forEach((x) => out.push({ x, y })));
    return out;
  };
  return {
    type: 'scatter',
    data: {
      datasets: [
        { data: flat(scatterBlackRows), pointRadius: 3, backgroundColor: '#000000', borderWidth: 0, order: 0 },
        { data: flat(scatterGrayRows), pointRadius: 3, backgroundColor: '#B7B7B7', borderWidth: 0, order: 1 },
      ],
    },
    options: {
      animation: false, responsive: false, events: [],
      layout: { padding: pad },
      plugins: { legend: { display: false }, tooltip: { enabled: false } },
      scales: rScales(-0.04, 1.04, 'Peak overlap ratio over replicate sample with larger peak number', 'Wiggle Correlation between replicates', 56.5, 1),
    },
    plugins: [rAxesPlugin, scatterRefPlugin],
  };
}
function ecdfConfig(pad: any) {
  const ds = (c: Curve, color: string) => ({ data: c.map(([x, y]) => ({ x, y })), borderColor: color, borderWidth: 1.2, pointRadius: 0, tension: 0, fill: false });
  return {
    type: 'line',
    data: { datasets: [ds(overlapEcdf, '#EE6A5F'), ds(wiggleEcdf, '#6B68CC')] },
    options: {
      animation: false, responsive: false, events: [],
      layout: { padding: pad },
      plugins: { legend: { display: false }, tooltip: { enabled: false } },
      scales: rScales(-0.156, 1.134, 'Overlapping Ratio or Wiggle Correlation', 'Cumulative Percentile', 50, 1),
    },
    plugins: [rAxesPlugin, ecdfRefPlugin],
  };
}

// ---------------- text helpers ----------------
function Txt({ x, y, size, children, bold = true, align = 'center', color = '#111', rotate = 0 }: any) {
  const tx = align === 'center' ? '-50%' : align === 'left' ? '0%' : '-100%';
  return (
    <div style={{ position: 'absolute', left: x, top: y, transform: `translate(${tx}, -50%) rotate(${rotate}deg)`, whiteSpace: 'nowrap', fontSize: size, fontWeight: bold ? 700 : 400, fontFamily: FONT, color, lineHeight: 1.15 }}>
      {children}
    </div>
  );
}

function CaptionLine({ segs, top, width }: any) {
  const ref = useRef<HTMLDivElement>(null);
  useLayoutEffect(() => {
    const el = ref.current as HTMLDivElement;
    const fit = () => {
      el.style.transform = 'none';
      const w = el.getBoundingClientRect().width;
      if (w > 0) el.style.transform = `scaleX(${width / w})`;
    };
    fit();
    const f: any = (document as any).fonts;
    if (f && f.ready) f.ready.then(fit);
  }, []);
  return (
    <div ref={ref} style={{ position: 'absolute', left: 28, top, whiteSpace: 'nowrap', transformOrigin: '0 0', fontFamily: '"Liberation Sans Narrow", "Liberation Sans", Arial, sans-serif', fontSize: 19, lineHeight: '24px', color: '#231F20' }}>
      {segs.map(([t, b]: [string, boolean], i: number) => <span key={i} style={{ fontWeight: b ? 700 : 400 }}>{t}</span>)}
    </div>
  );
}

export default function App() {
  const captionWidths = [1248, 1162, 1210, 770];
  const captionTops = [1015, 1042, 1068, 1095];
  return (
    <div style={{ position: 'absolute', left: 0, top: 0, width: 1292, height: 1126, background: '#fff', overflow: 'hidden', fontFamily: FONT }}>
      <div style={{ position: 'absolute', left: 9, top: 9, width: 1280, height: 1112, border: '1.5px solid #3a3a3a', borderRadius: 12, boxSizing: 'border-box' }} />

      {/* ---------- panel a ---------- */}
      <div style={{ position: 'absolute', left: 85, top: 16, fontSize: 32, fontWeight: 700, lineHeight: '32px' }}>a</div>
      <Txt x={680} y={33} size={25.5}>{densityTitle}</Txt>
      <Txt x={134} y={289} size={19.5} rotate={-90}>Peak Number Density</Txt>
      {facetLabels.map((lab, k) => {
        const r = Math.floor(k / 4), c = k % 4;
        const left = A_COL_LEFT + c * A_COL_PITCH;
        const top = A_ROW_TOP + r * A_ROW_PITCH - 52;
        return (
          <div key={'s' + k} style={{ position: 'absolute', left, top, width: A_W, height: 52, background: '#000', color: '#fff', display: 'flex', alignItems: 'center', justifyContent: 'center', textAlign: 'center', whiteSpace: 'pre-line', fontWeight: 700, fontSize: 16, lineHeight: '15.5px', fontFamily: FONT }}>
            {lab}
          </div>
        );
      })}
      {densityPanels.map((curves, k) => {
        const r = Math.floor(k / 4), c = k % 4;
        const pl = A_COL_LEFT + c * A_COL_PITCH;
        const pt = A_ROW_TOP + r * A_ROW_PITCH;
        const showY = c === 0, showX = r === 1;
        const L = pl - 40, T = pt - 15, W = 40 + A_W + 20, H = 15 + A_H + 30;
        const yW = showY ? 36 : 0, xH = showX ? 20 : 0;
        const pad = { left: 40 - yW, top: 15, right: 20, bottom: 30 - xH };
        return <ChartCanvas key={'d' + k} left={L} top={T} width={W} height={H} make={() => densityConfig(curves, showY, showX, pad)} />;
      })}
      {/* legend a */}
      {[241, 413, 771].map((bx, i) => (
        <div key={'lb' + i} style={{ position: 'absolute', left: bx, top: 531, width: 17, height: 17, border: `2px solid ${seriesColors[i]}`, background: '#F4F4F4', boxSizing: 'border-box' }} />
      ))}
      {[262, 436, 793].map((tx, i) => (
        <Txt key={'lt' + i} x={tx} y={540} size={19} align="left">{seriesLabels[i]}</Txt>
      ))}

      {/* ---------- panel b ---------- */}
      <div style={{ position: 'absolute', left: 27, top: 562, fontSize: 32, fontWeight: 700, lineHeight: '32px' }}>b</div>
      <Txt x={330} y={565} size={13.5}>FRiP Score</Txt>
      <ChartCanvas left={10} top={545} width={480} height={455} make={() => fripConfig({ left: 2, top: 30, right: 26, bottom: 10 })} />
      <div style={{ position: 'absolute', left: 286, top: 992, width: 10, height: 9, background: '#F6C2BC', border: '1px solid #F8766D', boxSizing: 'border-box' }} />
      <div style={{ position: 'absolute', left: 286, top: 996, width: 10, height: 1, background: '#F8766D' }} />
      <Txt x={297} y={997} size={11.5} align="left">Control</Txt>
      <div style={{ position: 'absolute', left: 339, top: 992, width: 10, height: 9, background: '#A6DADB', border: '1px solid #00BFC4', boxSizing: 'border-box' }} />
      <div style={{ position: 'absolute', left: 339, top: 996, width: 10, height: 1, background: '#00BFC4' }} />
      <Txt x={350} y={997} size={11.5} align="left">Treat</Txt>

      {/* ---------- panel c ---------- */}
      <div style={{ position: 'absolute', left: 496, top: 561, fontSize: 32, fontWeight: 700, lineHeight: '32px' }}>c</div>
      <Txt x={710} y={618} size={14}>Peak overlap Ratio and Wiggle Correlation</Txt>
      <ChartCanvas left={490} top={620} width={400} height={370} make={() => scatterConfig({ left: 5, top: 29, right: 21, bottom: 5 })} />
      <Txt x={559} y={664} size={12} align="left" color="#3D3A93">{pearsonText}</Txt>

      {/* ---------- panel d ---------- */}
      <div style={{ position: 'absolute', left: 903, top: 564, fontSize: 32, fontWeight: 700, lineHeight: '32px' }}>d</div>
      <Txt x={1116} y={618} size={14}>Replicates consistency metrics distribution</Txt>
      <ChartCanvas left={895} top={620} width={395} height={370} make={() => ecdfConfig({ left: 5, top: 29, right: 15, bottom: 5 })} />
      <div style={{ position: 'absolute', left: 957, top: 674.5, width: 18, height: 1.3, background: '#EE6A5F' }} />
      <div style={{ position: 'absolute', left: 957, top: 688.5, width: 18, height: 1.3, background: '#6B68CC' }} />
      <Txt x={981} y={675} size={12} align="left">{ecdfLegend[0]}</Txt>
      <Txt x={981} y={689} size={12} align="left">{ecdfLegend[1]}</Txt>

      {/* ---------- caption ---------- */}
      {captionLines.map((segs, i) => (
        <CaptionLine key={'c' + i} segs={segs} top={captionTops[i]} width={captionWidths[i]} />
      ))}
    </div>
  );
}
